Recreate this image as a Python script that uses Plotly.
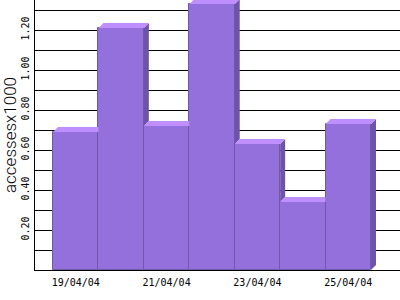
import plotly.graph_objects as go

# ---- data ----
dates = ["19/04/04", "20/04/04", "21/04/04", "22/04/04", "23/04/04", "24/04/04", "25/04/04"]
accesses = [0.69, 1.21, 0.72, 1.33, 0.63, 0.34, 0.73]
y_tick_vals = [0.1, 0.2, 0.3, 0.4, 0.5, 0.6, 0.7, 0.8, 0.9, 1.0, 1.1, 1.2, 1.3]
y_tick_text = ["", "0.20", "", "0.40", "", "0.60", "", "0.80", "", "1.00", "", "1.20", ""]
x_label_idx = [0, 2, 4, 6]

# ---- styling / geometry ----
W, H = 400, 300
ML, MR, MT, MB = 35, 0, 0, 30
XR = [-0.896, 7.138]
YR = [0, 1.35]
FRONT = "#9370DB"
TOP = "#BF8FFF"
SIDE = "#6E54A8"
EDGE = "#6F58A8"

pw = W - ML - MR
ph = H - MT - MB
DX = 5 * (XR[1] - XR[0]) / pw   # 3D depth in x units
DY = 5 * (YR[1] - YR[0]) / ph   # 3D depth in y units
K = DY / DX

xs = list(range(len(accesses)))

fig = go.Figure()

# front faces
fig.add_trace(go.Bar(
    x=xs, y=accesses, width=1.0,
    marker=dict(color=FRONT, line=dict(color=EDGE, width=1)),
    hoverinfo="skip", showlegend=False,
))

def poly(px, py, color):
    fig.add_trace(go.Scatter(
        x=px + [px[0]], y=py + [py[0]], mode="lines", fill="toself",
        fillcolor=color, line=dict(width=0, color=color),
        hoverinfo="skip", showlegend=False,
    ))

n_bars = len(accesses)
for i, v in enumerate(accesses):
    x0 = i + 0.5
    m = max(accesses[i + 1], 0) if i + 1 < n_bars else 0.0
    # side face (visible part)
    if m < v:
        poly([x0, x0 + DX, x0 + DX, x0], [m, m + DY, v + DY, v], SIDE)
    # top face (visible part)
    if m <= v:
        px = [x0 - 1, x0, x0 + DX, x0 - 1 + DX]
        py = [v, v, v + DY, v + DY]
    elif m < v + DY:
        px = [x0 - 1, x0, x0, x0 + (v + DY - m) / K, x0 - 1 + DX]
        py = [v, v, m, v + DY, v + DY]
    else:
        px = [x0 - 1, x0, x0, x0 - 1 + DX]
        py = [v, v, v + DY, v + DY]
    poly(px, py, TOP)

fig.update_layout(
    width=W, height=H,
    margin=dict(l=ML, r=MR, t=MT, b=MB, pad=0),
    paper_bgcolor="white", plot_bgcolor="white",
    showlegend=False,
    bargap=0,
    xaxis=dict(
        range=XR, showgrid=False, zeroline=False,
        showline=True, linecolor="black", linewidth=1,
        tickmode="array", tickvals=x_label_idx,
        ticktext=[dates[i] for i in x_label_idx],
        ticks="", ticklabelstandoff=3,
        tickfont=dict(family="DejaVu Sans Mono", size=10, color="black"),
    ),
    yaxis=dict(
        range=YR, showgrid=True, gridcolor="black", gridwidth=1,
        zeroline=False, showline=True, linecolor="black", linewidth=1,
        tickmode="array", tickvals=y_tick_vals, ticktext=y_tick_text,
        ticks="", tickangle=-90, ticklabelstandoff=1,
        tickfont=dict(family="DejaVu Sans Mono", size=10, color="black"),
        title=dict(text="accessesx1000", standoff=3,
                   font=dict(family="Roboto", size=17, weight=300, color="black")),
    ),
)

fig.write_html("out.html")
